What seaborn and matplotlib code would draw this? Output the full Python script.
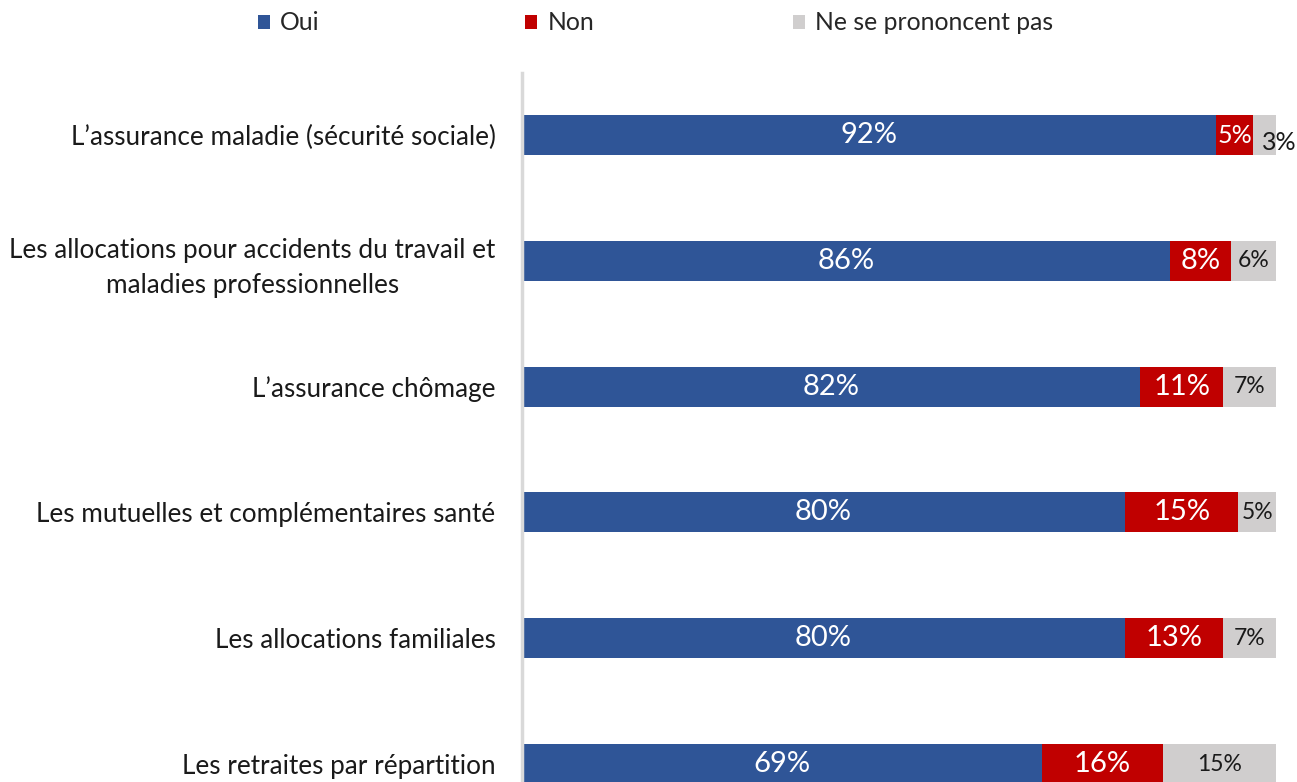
import matplotlib
matplotlib.use("Agg")
import matplotlib.pyplot as plt
from matplotlib.patches import Patch
import seaborn as sns
import pandas as pd

# values (percent)
categories = [
    "L\u2019assurance maladie (sécurité sociale)",
    "Les allocations pour accidents du travail et\nmaladies professionnelles",
    "L\u2019assurance chômage",
    "Les mutuelles et complémentaires santé",
    "Les allocations familiales",
    "Les retraites par répartition",
]
oui = [92, 86, 82, 80, 80, 69]
non = [5, 8, 11, 15, 13, 16]
nsp = [3, 6, 7, 5, 7, 15]

series_names = ["Oui", "Non", "Ne se prononcent pas"]
colors = ["#2F5597", "#C00000", "#D0CECE"]

sns.set_style("white")
plt.rcParams["font.family"] = ["Lato", "DejaVu Sans"]

df = pd.DataFrame({"cat": categories, "oui": oui, "non": non, "nsp": nsp})
df["c1"] = df["oui"]
df["c2"] = df["oui"] + df["non"]
df["c3"] = df["c2"] + df["nsp"]

fig = plt.figure(figsize=(12.97, 7.82), dpi=100)
ax = fig.add_axes([522 / 1297, 0.0, (1276 - 522) / 1297, 1 - 73 / 782])

bar_w = 40 / 125.8
# draw from the longest cumulative layer to the shortest
for col, c in zip(["c3", "c2", "c1"], colors[::-1]):
    sns.barplot(data=df, x=col, y="cat", orient="h", color=c, width=bar_w,
                saturation=1, ax=ax, edgecolor="none")

ax.set_xlim(0, 100)
ax.set_ylim(5.143, -0.493)
ax.set_xlabel("")
ax.set_ylabel("")
ax.set_xticks([])
ax.tick_params(axis="y", length=0, pad=19, labelsize=18.8, labelcolor="#1a1a1a")
for lbl in ax.get_yticklabels():
    lbl.set_multialignment("center")
    lbl.set_linespacing(1.5)
for s in ["top", "right", "bottom"]:
    ax.spines[s].set_visible(False)
ax.spines["left"].set_color("#D9D9D9")
ax.spines["left"].set_linewidth(2.5)
ax.spines["left"].set_zorder(5)

# value labels
for i in range(len(categories)):
    ax.text(oui[i] / 2, i, f"{oui[i]}%", ha="center", va="center",
            color="white", fontsize=21)
    ax.text(oui[i] + non[i] / 2, i, f"{non[i]}%", ha="center", va="center",
            color="white", fontsize=21 if non[i] > 5 else 18)
    if nsp[i] < 5:
        ax.text(98.2, i + 0.06, f"{nsp[i]}%", ha="left", va="center",
                color="#1a1a1a", fontsize=18)
    else:
        ax.text(oui[i] + non[i] + nsp[i] / 2, i, f"{nsp[i]}%", ha="center",
                va="center", color="#1a1a1a", fontsize=16.5)

# legend, one entry per box so positions match the original
legend_x = [258, 525, 793]
for name, c, x in zip(series_names, colors, legend_x):
    fig.legend(handles=[Patch(facecolor=c, edgecolor="none", label=name)],
               loc="center left", bbox_to_anchor=(x / 1297, 1 - 23 / 782),
               frameon=False, fontsize=17.8, handlelength=0.5, handleheight=0.5,
               handletextpad=0.4, borderaxespad=0, borderpad=0)

fig.savefig("out.png", dpi=100)
